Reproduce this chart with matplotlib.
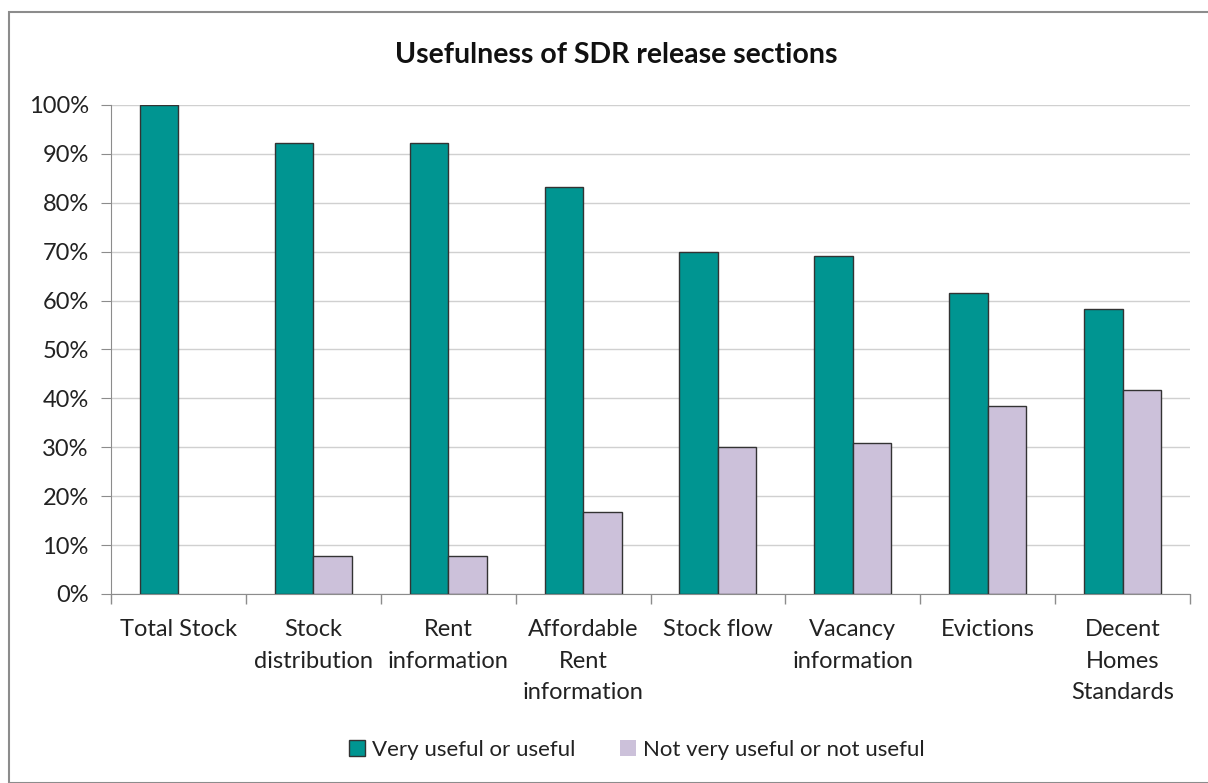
import matplotlib.pyplot as plt
import matplotlib.patches as mpatches
import numpy as np
from matplotlib.ticker import PercentFormatter, FixedLocator

plt.rcParams['font.family'] = ['Lato', 'DejaVu Sans']

# data
sections = ['Total Stock', 'Stock\ndistribution', 'Rent\ninformation', 'Affordable\nRent\ninformation',
            'Stock flow', 'Vacancy\ninformation', 'Evictions', 'Decent\nHomes\nStandards']
useful = [100, 92.3, 92.3, 83.3, 70.0, 69.2, 61.5, 58.3]
not_useful = [0, 7.7, 7.7, 16.7, 30.0, 30.8, 38.5, 41.7]

teal = '#009591'
lilac = '#ccc1da'
edge = '#333333'

fig = plt.figure(figsize=(12.08, 7.83), dpi=100)
ax = fig.add_axes([111 / 1208, 1 - 594 / 783, (1190 - 111) / 1208, (594 - 105) / 783])

# outer chart border
fig.patches.append(mpatches.Rectangle((9 / 1208, 0), 1.0, 1 - 12 / 783, transform=fig.transFigure,
                                      fill=False, edgecolor='#8c8c8c', linewidth=1.5))

x = np.arange(len(sections))
w = 1 / 3.5
ax.bar(x - w / 2, useful, w, color=teal, edgecolor=edge, linewidth=1, label='Very useful or useful', zorder=3)
ax.bar(x + w / 2, not_useful, w, color=lilac, edgecolor=edge,
       linewidth=[1 if v > 0 else 0 for v in not_useful],
       label='Not very useful or not useful', zorder=3)

ax.set_xlim(-0.5, len(sections) - 0.5)
ax.set_ylim(0, 100)
ax.set_yticks(np.arange(0, 101, 10))
ax.yaxis.set_major_formatter(PercentFormatter(decimals=0))
ax.grid(axis='y', color='#d0d0d0', linewidth=1, zorder=0)

ax.set_xticks(x)
ax.set_xticklabels(sections, fontsize=17, color='#222222', linespacing=1.62)
ax.xaxis.set_minor_locator(FixedLocator(np.arange(-0.5, len(sections), 1)))
ax.tick_params(axis='x', which='major', length=0, pad=18)
ax.tick_params(axis='x', which='minor', length=7, color='#8c8c8c', width=1)
ax.tick_params(axis='y', length=7, color='#8c8c8c', labelsize=17, labelcolor='#222222', pad=9)

for s in ['top', 'right']:
    ax.spines[s].set_visible(False)
for s in ['left', 'bottom']:
    ax.spines[s].set_color('#8c8c8c')

fig.text(0.51, 1 - 55 / 783, 'Usefulness of SDR release sections', ha='center', va='center',
         fontsize=20.5, fontweight='bold', color='#111111')

leg = fig.legend(loc='center', bbox_to_anchor=(0.527, 1 - 750 / 783), ncol=2, frameon=False, fontsize=16,
                 handlelength=0.75, handleheight=0.75, handletextpad=0.3, columnspacing=2.0)
for t in leg.get_texts():
    t.set_color('#222222')

fig.savefig('out.png', dpi=100)
